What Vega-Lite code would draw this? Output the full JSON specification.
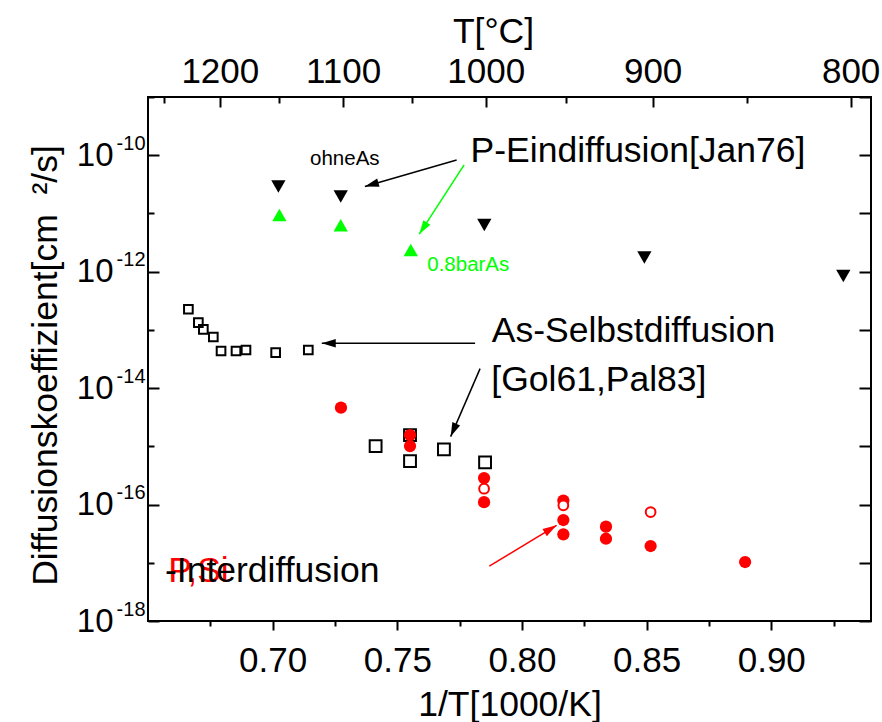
{
  "$schema": "https://vega.github.io/schema/vega-lite/v6.json",
  "width": 723,
  "height": 524,
  "autosize": {"type": "none"},
  "padding": {"left": 148, "top": 97, "right": 11, "bottom": 101},
  "background": "white",
  "config": {
    "font": "Liberation Sans",
    "view": {"stroke": "#000", "strokeWidth": 2},
    "axis": {"grid": false, "domain": false, "tickColor": "#000", "tickWidth": 2, "labelColor": "#000", "titleColor": "#000", "labelFont": "Liberation Sans", "titleFont": "Liberation Sans", "labelFontSize": 35, "titleFontSize": 35.5, "titleFontWeight": "normal", "labelFlush": false, "labelOverlap": false, "labelBound": false},
    "text": {"font": "Liberation Sans"}
  },
  "datasets": {
    "points": [
      {"series": "ohneAs", "x": 0.7023, "D": 2.90e-11},
      {"series": "ohneAs", "x": 0.7273, "D": 1.95e-11},
      {"series": "ohneAs", "x": 0.7849, "D": 6.34e-12},
      {"series": "ohneAs", "x": 0.8491, "D": 1.75e-12},
      {"series": "ohneAs", "x": 0.9289, "D": 8.43e-13},
      {"series": "barAs", "x": 0.7027, "D": 9.42e-12},
      {"series": "barAs", "x": 0.7273, "D": 6.27e-12},
      {"series": "barAs", "x": 0.7554, "D": 2.36e-12},
      {"series": "As_Gol61", "x": 0.6662, "D": 2.26e-13},
      {"series": "As_Gol61", "x": 0.6702, "D": 1.33e-13},
      {"series": "As_Gol61", "x": 0.6722, "D": 1.02e-13},
      {"series": "As_Gol61", "x": 0.6762, "D": 7.55e-14},
      {"series": "As_Gol61", "x": 0.6793, "D": 4.34e-14},
      {"series": "As_Gol61", "x": 0.6853, "D": 4.34e-14},
      {"series": "As_Gol61", "x": 0.6893, "D": 4.52e-14},
      {"series": "As_Gol61", "x": 0.7012, "D": 4.07e-14},
      {"series": "As_Gol61", "x": 0.7143, "D": 4.52e-14},
      {"series": "As_Pal83", "x": 0.7413, "D": 1.01e-15},
      {"series": "As_Pal83", "x": 0.7551, "D": 1.56e-15},
      {"series": "As_Pal83", "x": 0.7551, "D": 5.58e-16},
      {"series": "As_Pal83", "x": 0.7687, "D": 8.87e-16},
      {"series": "As_Pal83", "x": 0.7852, "D": 5.31e-16},
      {"series": "PSi_filled", "x": 0.7274, "D": 4.62e-15},
      {"series": "PSi_filled", "x": 0.7551, "D": 1.56e-15},
      {"series": "PSi_filled", "x": 0.7551, "D": 1.01e-15},
      {"series": "PSi_filled", "x": 0.7848, "D": 2.85e-16},
      {"series": "PSi_filled", "x": 0.7848, "D": 1.10e-16},
      {"series": "PSi_filled", "x": 0.8166, "D": 1.17e-16},
      {"series": "PSi_filled", "x": 0.8166, "D": 5.42e-17},
      {"series": "PSi_filled", "x": 0.8166, "D": 3.08e-17},
      {"series": "PSi_filled", "x": 0.8337, "D": 4.17e-17},
      {"series": "PSi_filled", "x": 0.8337, "D": 2.59e-17},
      {"series": "PSi_filled", "x": 0.8516, "D": 1.94e-17},
      {"series": "PSi_filled", "x": 0.8895, "D": 1.03e-17},
      {"series": "PSi_open", "x": 0.7848, "D": 1.87e-16},
      {"series": "PSi_open", "x": 0.8166, "D": 9.7e-17},
      {"series": "PSi_open", "x": 0.8516, "D": 7.43e-17}
    ],
    "labels": [
      {"group": "big", "text": "P-Eindiffusion[Jan76]", "x": 0.7794, "D": 1.186e-10},
      {"group": "small", "text": "ohneAs", "x": 0.715, "D": 8.53e-11},
      {"group": "smallgreen", "text": "0.8barAs", "x": 0.762, "D": 1.29e-12},
      {"group": "big", "text": "As-Selbstdiffusion", "x": 0.7879, "D": 9.57e-14},
      {"group": "big", "text": "[Gol61,Pal83]", "x": 0.7877, "D": 1.36e-14},
      {"group": "bigred", "text": "P,Si", "x": 0.6581, "D": 7.11e-18},
      {"group": "big", "text": "-Interdiffusion", "x": 0.6568, "D": 7.11e-18}
    ],
    "arrows": [
      {"group": "black", "x": 0.7738, "D": 8.30e-11, "x2": 0.7370, "D2": 2.90e-11},
      {"group": "green", "x": 0.7768, "D": 6.81e-11, "x2": 0.7588, "D2": 4.40e-12},
      {"group": "black", "x": 0.7812, "D": 5.89e-14, "x2": 0.7197, "D2": 5.89e-14},
      {"group": "black", "x": 0.7832, "D": 2.16e-14, "x2": 0.7714, "D2": 1.47e-15},
      {"group": "red", "x": 0.7869, "D": 8.77e-18, "x2": 0.8139, "D2": 4.40e-17}
    ]
  },
  "encoding": {
    "x": {"field": "x", "type": "quantitative", "scale": {"domain": [0.65, 0.94], "nice": false, "zero": false}, "axis": null},
    "y": {"field": "D", "type": "quantitative", "scale": {"type": "log", "domain": [1e-18, 1e-9], "nice": false}, "axis": null}
  },
  "layer": [
    {
      "data": {"name": "points"},
      "transform": [{"filter": "datum.series == 'As_Gol61'"}],
      "mark": {"type": "point", "shape": "square", "filled": false, "stroke": "#000", "strokeWidth": 2, "size": 75, "opacity": 1},
      "encoding": {
        "x": {"field": "x", "type": "quantitative", "scale": {"domain": [0.65, 0.94], "nice": false, "zero": false},
          "axis": {
            "orient": "bottom",
            "values": [0.675, 0.7, 0.725, 0.75, 0.775, 0.8, 0.825, 0.85, 0.875, 0.9, 0.925],
            "labelExpr": "abs(datum.value*20 - round(datum.value*20)) < 0.001 ? format(datum.value, '.2f') : ''",
            "tickSize": {"condition": {"test": "abs(datum.value*20 - round(datum.value*20)) < 0.001", "value": 9}, "value": 5},
            "labelPadding": 13,
            "title": "1/T[1000/K]",
            "titleBaseline": "alphabetic",
            "titleY": 94
          }
        },
        "y": {"field": "D", "type": "quantitative", "scale": {"type": "log", "domain": [1e-18, 1e-9], "nice": false},
          "axis": {
            "orient": "left",
            "values": [1e-18, 1e-17, 1e-16, 1e-15, 1e-14, 1e-13, 1e-12, 1e-11, 1e-10, 1e-9],
            "labelExpr": "abs(round(log(datum.value)/LN10)) % 2 == 0 ? '10' : ''",
            "labelFontSize": 33,
            "tickSize": {"condition": {"test": "abs(round(log(datum.value)/LN10)) % 2 == 0", "value": -11}, "value": -6},
            "labelPadding": 46,
            "title": "Diffusionskoeffizient[cm\u00a0\u00a0²/s]",
            "titleBaseline": "alphabetic",
            "titleAngle": -90,
            "titleX": -92,
            "titleY": 268
          }
        }
      }
    },
    {
      "data": {"name": "points"},
      "transform": [{"filter": "datum.series == 'As_Pal83'"}],
      "mark": {"type": "point", "shape": "square", "filled": false, "stroke": "#000", "strokeWidth": 2, "size": 140, "opacity": 1},
      "encoding": {
        "x": {"field": "x", "type": "quantitative", "scale": {"domain": [0.65, 0.94], "nice": false, "zero": false},
          "axis": {
            "orient": "top",
            "values": [0.656534, 0.678817, 0.702667, 0.728253, 0.755772, 0.785453, 0.817561, 0.852406, 0.890353, 0.931836],
            "labelExpr": "round(1000/datum.value - 273.15) % 100 == 0 ? '' + round(1000/datum.value - 273.15) : ''",
            "tickSize": {"condition": {"test": "round(1000/datum.value - 273.15) % 100 == 0", "value": -10}, "value": -6},
            "labelPadding": 18,
            "title": "T[°C]",
            "titleBaseline": "alphabetic",
            "titleX": 345,
            "titleY": -55
          }
        },
        "y": {"field": "D", "type": "quantitative", "scale": {"type": "log", "domain": [1e-18, 1e-9], "nice": false},
          "axis": {
            "orient": "right",
            "values": [1e-18, 1e-17, 1e-16, 1e-15, 1e-14, 1e-13, 1e-12, 1e-11, 1e-10, 1e-9],
            "labels": false,
            "tickSize": -12,
            "title": null
          }
        }
      }
    },
    {
      "data": {"name": "points"},
      "transform": [{"filter": "datum.series == 'ohneAs'"}],
      "mark": {"type": "point", "shape": "triangle-down", "filled": true, "color": "#000", "size": 204, "opacity": 1},
      "encoding": {
        "y": {"field": "D", "type": "quantitative", "scale": {"type": "log", "domain": [1e-18, 1e-9], "nice": false},
          "axis": {
            "orient": "left",
            "values": [1e-18, 1e-16, 1e-14, 1e-12, 1e-10],
            "labelExpr": "'' + round(log(datum.value)/LN10)",
            "labelFontSize": 20,
            "labelOffset": -12,
            "labelPadding": 3,
            "ticks": false,
            "title": null
          }
        }
      }
    },
    {
      "data": {"name": "points"},
      "transform": [{"filter": "datum.series == 'barAs'"}],
      "mark": {"type": "point", "shape": "triangle-up", "filled": true, "color": "#00ff00", "size": 204, "opacity": 1}
    },
    {
      "data": {"name": "points"},
      "transform": [{"filter": "datum.series == 'PSi_filled'"}],
      "mark": {"type": "point", "shape": "circle", "filled": true, "color": "#ff0000", "size": 150, "opacity": 1}
    },
    {
      "data": {"name": "points"},
      "transform": [{"filter": "datum.series == 'PSi_open'"}],
      "mark": {"type": "point", "shape": "circle", "filled": true, "fill": "#ffffff", "stroke": "#ff0000", "strokeWidth": 2, "size": 95, "opacity": 1}
    },
    {
      "data": {"name": "arrows"},
      "mark": {"type": "rule", "strokeWidth": 1.5},
      "encoding": {
        "x2": {"field": "x2"},
        "y2": {"field": "D2"},
        "color": {"field": "group", "type": "nominal", "scale": {"domain": ["black", "green", "red"], "range": ["#000000", "#00ff00", "#ff0000"]}, "legend": null}
      }
    },
    {
      "data": {"name": "arrows"},
      "transform": [{"calculate": "atan2((datum.x2 - datum.x) * 723 / 0.29, (log(datum.D2) - log(datum.D)) / LN10 * 524 / 9) * 180 / PI", "as": "angle"}],
      "mark": {"type": "point", "shape": "M0,0L0.3,1L-0.3,1Z", "filled": true, "size": 784, "opacity": 1, "strokeWidth": 0},
      "encoding": {
        "x": {"field": "x2", "type": "quantitative", "scale": {"domain": [0.65, 0.94], "nice": false, "zero": false}, "axis": null},
        "y": {"field": "D2", "type": "quantitative", "scale": {"type": "log", "domain": [1e-18, 1e-9], "nice": false}, "axis": null},
        "angle": {"field": "angle", "type": "quantitative", "scale": null},
        "color": {"field": "group", "type": "nominal", "scale": {"domain": ["black", "green", "red"], "range": ["#000000", "#00ff00", "#ff0000"]}, "legend": null}
      }
    },
    {
      "data": {"name": "labels"},
      "transform": [{"filter": "datum.group == 'bigred'"}],
      "mark": {"type": "text", "align": "left", "baseline": "middle", "fontSize": 35.5, "color": "#ff0000"},
      "encoding": {"text": {"field": "text"}}
    },
    {
      "data": {"name": "labels"},
      "transform": [{"filter": "datum.group == 'big'"}],
      "mark": {"type": "text", "align": "left", "baseline": "middle", "fontSize": 35.5, "color": "#000000"},
      "encoding": {"text": {"field": "text"}}
    },
    {
      "data": {"name": "labels"},
      "transform": [{"filter": "datum.group == 'small'"}],
      "mark": {"type": "text", "align": "left", "baseline": "middle", "fontSize": 20.5, "color": "#000000"},
      "encoding": {"text": {"field": "text"}}
    },
    {
      "data": {"name": "labels"},
      "transform": [{"filter": "datum.group == 'smallgreen'"}],
      "mark": {"type": "text", "align": "left", "baseline": "middle", "fontSize": 20.5, "color": "#00ff00"},
      "encoding": {"text": {"field": "text"}}
    }
  ],
  "resolve": {"axis": {"x": "independent", "y": "independent"}}
}
